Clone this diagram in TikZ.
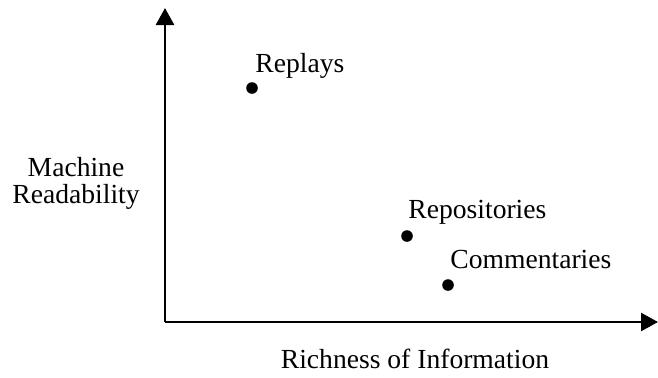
\documentclass[tikz,border=0pt]{standalone}
\usepackage{fontspec}
\setmainfont{Liberation Serif}
\usetikzlibrary{arrows.meta, positioning}
\tikzset{
    x=0.5pt, y=-0.5pt,% one unit is one pixel of the sketch
    axis/.style = {line width=1.3pt, -{Triangle[length=8.5pt, width=9pt]}},
    dot/.style = {circle, fill, inner sep=0pt, minimum size=5.8pt},
    lbl/.style = {anchor=base west, inner sep=0pt, font=\fontsize{13.8}{16.5}\selectfont},
    axlbl/.style = {anchor=base, inner sep=0pt, align=center, font=\fontsize{13.8}{12.5}\selectfont}
}
\begin{document}
\begin{tikzpicture}
    \useasboundingbox (0,0) rectangle (658,377);
    \coordinate (origin) at (165,322);
    \coordinate (ytip) at (165,8);
    \coordinate (xtip) at (658,322);
    \draw[axis] (origin) -- (ytip);
    \draw[axis] (origin) -- (xtip);
    \node[dot] (replays) at (252,88) {};
    \node[dot] (repositories) at (407,236) {};
    \node[dot] (commentaries) at (448,285) {};
    \node[lbl] (replayslbl) at (255,72) {Replays};
    \node[lbl] (repositorieslbl) at (408,218) {Repositories};
    \node[lbl] (commentarieslbl) at (450,268) {Commentaries};
    \node[axlbl] (ylbl) at (76,203) {Machine\\[1pt]Readability};
    \node[axlbl] (xlbl) at (415,368) {Richness of Information};
\end{tikzpicture}
\end{document}
